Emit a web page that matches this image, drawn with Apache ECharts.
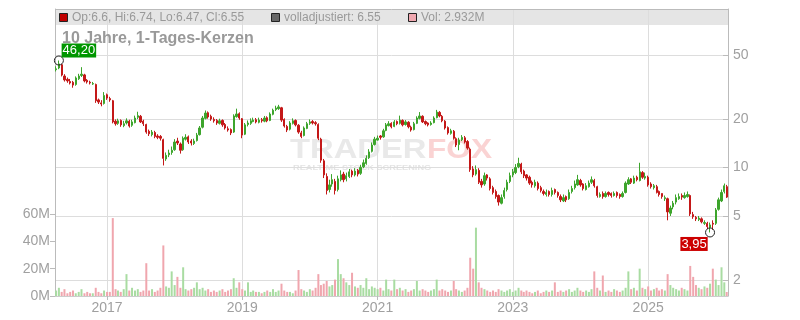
<!DOCTYPE html>
<html><head><meta charset="utf-8">
<script src="https://cdn.jsdelivr.net/npm/echarts@6/dist/echarts.min.js"></script>
<style>html,body{margin:0;padding:0;background:#fff}#c{width:800px;height:320px}</style>
</head><body><div id="c"></div><script>
const dates = [
'2016-04-01','2016-04-16','2016-05-01','2016-05-16','2016-06-01','2016-06-16','2016-07-01','2016-07-16','2016-08-01','2016-08-16','2016-09-01','2016-09-16','2016-10-01','2016-10-16','2016-11-01','2016-11-16','2016-12-01','2016-12-16',
'2017-01-01','2017-01-16','2017-02-01','2017-02-16','2017-03-01','2017-03-16','2017-04-01','2017-04-16','2017-05-01','2017-05-16','2017-06-01','2017-06-16','2017-07-01','2017-07-16','2017-08-01','2017-08-16','2017-09-01','2017-09-16','2017-10-01','2017-10-16','2017-11-01','2017-11-16','2017-12-01','2017-12-16',
'2018-01-01','2018-01-16','2018-02-01','2018-02-16','2018-03-01','2018-03-16','2018-04-01','2018-04-16','2018-05-01','2018-05-16','2018-06-01','2018-06-16','2018-07-01','2018-07-16','2018-08-01','2018-08-16','2018-09-01','2018-09-16','2018-10-01','2018-10-16','2018-11-01','2018-11-16','2018-12-01','2018-12-16',
'2019-01-01','2019-01-16','2019-02-01','2019-02-16','2019-03-01','2019-03-16','2019-04-01','2019-04-16','2019-05-01','2019-05-16','2019-06-01','2019-06-16','2019-07-01','2019-07-16','2019-08-01','2019-08-16','2019-09-01','2019-09-16','2019-10-01','2019-10-16','2019-11-01','2019-11-16','2019-12-01','2019-12-16',
'2020-01-01','2020-01-16','2020-02-01','2020-02-16','2020-03-01','2020-03-16','2020-04-01','2020-04-16','2020-05-01','2020-05-16','2020-06-01','2020-06-16','2020-07-01','2020-07-16','2020-08-01','2020-08-16','2020-09-01','2020-09-16','2020-10-01','2020-10-16','2020-11-01','2020-11-16','2020-12-01','2020-12-16',
'2021-01-01','2021-01-16','2021-02-01','2021-02-16','2021-03-01','2021-03-16','2021-04-01','2021-04-16','2021-05-01','2021-05-16','2021-06-01','2021-06-16','2021-07-01','2021-07-16','2021-08-01','2021-08-16','2021-09-01','2021-09-16','2021-10-01','2021-10-16','2021-11-01','2021-11-16','2021-12-01','2021-12-16',
'2022-01-01','2022-01-16','2022-02-01','2022-02-16','2022-03-01','2022-03-16','2022-04-01','2022-04-16','2022-05-01','2022-05-16','2022-06-01','2022-06-16','2022-07-01','2022-07-16','2022-08-01','2022-08-16','2022-09-01','2022-09-16','2022-10-01','2022-10-16','2022-11-01','2022-11-16','2022-12-01','2022-12-16',
'2023-01-01','2023-01-16','2023-02-01','2023-02-16','2023-03-01','2023-03-16','2023-04-01','2023-04-16','2023-05-01','2023-05-16','2023-06-01','2023-06-16','2023-07-01','2023-07-16','2023-08-01','2023-08-16','2023-09-01','2023-09-16','2023-10-01','2023-10-16','2023-11-01','2023-11-16','2023-12-01','2023-12-16',
'2024-01-01','2024-01-16','2024-02-01','2024-02-16','2024-03-01','2024-03-16','2024-04-01','2024-04-16','2024-05-01','2024-05-16','2024-06-01','2024-06-16','2024-07-01','2024-07-16','2024-08-01','2024-08-16','2024-09-01','2024-09-16','2024-10-01','2024-10-16','2024-11-01','2024-11-16','2024-12-01','2024-12-16',
'2025-01-01','2025-01-16','2025-02-01','2025-02-16','2025-03-01','2025-03-16','2025-04-01','2025-04-16','2025-05-01','2025-05-16','2025-06-01','2025-06-16','2025-07-01','2025-07-16','2025-08-01','2025-08-16','2025-09-01','2025-09-16','2025-10-01','2025-10-16','2025-11-01','2025-11-16','2025-12-01','2025-12-16',
'2026-01-01','2026-01-16','2026-02-01','2026-02-16','2026-03-01'
];
const opens = [
40.5,41.5,43.5,37.0,35.3,34.2,33.8,32.8,35.6,37.3,37.6,34.8,33.9,33.0,32.8,26.3,25.2,25.0,28.3,26.8,
26.0,19.4,18.8,19.6,18.2,18.9,19.4,18.3,19.0,20.5,20.8,19.4,18.5,16.8,16.0,16.5,15.7,15.6,14.9,11.3,
12.0,12.4,12.9,14.6,14.0,12.9,15.0,15.5,14.6,14.1,14.7,16.0,17.8,20.2,21.9,20.8,19.9,19.6,18.8,19.6,
18.5,17.4,17.2,16.6,20.7,21.6,20.1,16.1,18.5,18.8,19.3,19.8,19.1,19.8,19.4,20.4,19.6,21.4,22.9,23.2,
23.5,19.9,18.0,17.3,18.8,19.6,18.3,16.4,15.8,17.5,18.8,19.3,19.0,18.5,15.0,11.0,8.8,7.3,7.9,8.2,
7.3,8.4,9.1,8.5,8.8,9.5,9.0,9.6,9.2,10.1,10.6,11.5,12.6,13.9,14.8,15.7,15.5,17.0,18.2,18.8,
18.0,19.3,18.8,19.6,18.5,19.1,17.8,17.2,18.8,20.2,20.8,19.3,18.9,18.5,19.0,20.4,22.0,20.8,19.4,17.7,
16.3,16.8,15.1,13.9,14.9,15.3,14.5,13.0,9.8,9.1,9.6,8.2,7.9,9.0,8.5,7.5,7.1,6.7,6.0,6.6,
7.3,8.2,9.0,9.3,10.1,10.5,9.5,9.0,8.7,8.1,7.7,8.0,7.5,7.1,6.8,7.1,6.8,7.3,7.0,6.6,
6.2,6.6,6.4,7.1,7.5,7.8,8.3,7.9,7.3,7.6,8.1,8.3,7.6,6.6,6.9,6.6,7.0,6.9,6.7,7.0,
6.8,6.6,7.0,7.9,8.5,8.0,8.7,8.3,9.3,8.6,8.7,7.9,7.5,7.6,7.1,6.9,6.4,6.4,5.2,5.7,
6.1,6.4,6.7,6.5,6.6,6.7,5.1,4.9,4.75,4.8,4.5,4.5,4.25,4.5,4.5,5.5,6.2,7.1,7.6
];
const highs = [
42.5,46.2,44.0,38.0,36.2,35.5,34.5,36.8,38.2,42.0,38.2,35.4,34.6,34.0,33.2,26.8,26.2,29.4,28.8,27.5,
26.3,19.9,20.1,19.9,19.5,20.2,19.8,19.8,21.0,22.2,21.2,19.8,18.7,17.2,17.1,16.9,16.1,15.9,15.1,12.4,
12.9,13.5,15.0,15.3,14.3,15.6,16.1,15.8,15.0,15.1,16.4,18.1,20.9,22.6,22.3,21.3,20.5,20.0,20.1,19.9,
18.9,18.0,17.5,21.4,23.2,22.0,20.3,18.9,19.6,20.2,20.4,20.3,20.4,20.3,20.9,20.8,22.0,23.2,24.2,24.5,
23.8,20.2,18.4,19.4,20.2,19.9,18.6,16.9,18.0,19.2,19.9,19.7,19.4,18.8,15.3,11.3,9.2,8.4,9.1,8.5,
8.9,9.6,9.4,9.3,9.8,9.7,9.9,9.8,10.4,11.2,11.9,13.0,14.3,15.5,15.8,15.9,17.4,18.9,19.4,19.1,
19.7,19.6,21.0,19.9,19.7,19.4,18.2,19.2,20.8,22.1,21.1,19.6,19.1,19.4,20.8,22.8,22.4,21.2,19.7,18.0,
17.4,17.1,15.4,15.3,15.9,15.7,14.8,13.3,10.2,10.3,9.9,8.5,9.3,9.1,8.7,7.7,7.3,6.8,6.8,7.5,
8.4,9.3,9.8,10.5,11.5,10.7,9.7,9.1,8.9,8.3,8.4,8.2,7.7,7.3,7.3,7.2,7.5,7.4,7.1,6.8,
6.8,6.7,7.3,7.7,8.3,9.0,8.5,8.0,8.0,8.3,8.8,8.5,7.7,7.0,7.1,7.1,7.1,7.0,7.1,7.1,
6.9,7.1,8.2,8.7,8.6,8.9,8.9,10.7,9.5,9.3,8.9,8.1,7.9,7.8,7.2,6.9,6.7,6.5,5.8,6.2,
6.8,6.9,6.9,7.0,7.1,6.8,5.3,5.0,5.0,4.9,4.7,4.6,4.55,4.7,5.6,6.5,7.3,7.95,7.8
];
const lows = [
39.5,40.8,36.8,34.2,33.6,32.8,31.3,32.2,35.0,36.5,33.8,33.2,32.8,32.6,25.2,24.8,24.0,24.6,26.3,25.6,
18.8,18.2,18.4,17.9,17.8,18.5,17.7,17.9,18.8,20.0,18.9,18.1,16.2,15.7,15.6,15.2,15.0,14.7,10.3,11.0,
11.6,12.0,12.7,13.8,12.2,12.7,14.7,14.0,13.7,13.8,14.5,15.8,17.5,19.9,20.1,19.5,19.0,18.4,18.5,17.9,
17.2,16.7,15.9,16.4,20.4,19.8,15.2,15.9,18.0,18.4,19.1,18.8,18.8,19.0,19.1,19.1,19.4,21.1,22.4,22.8,
19.2,17.7,16.6,17.0,18.5,18.0,16.2,15.2,15.6,17.3,18.4,18.5,18.2,14.8,10.7,8.6,6.8,7.0,7.6,6.8,
7.1,8.2,8.1,8.2,8.6,8.7,8.8,8.8,9.0,9.9,10.4,11.3,12.4,13.7,14.7,14.9,15.3,16.8,18.0,17.5,
17.8,18.3,18.5,18.0,18.2,17.5,16.7,17.0,18.6,19.9,18.9,18.3,18.0,18.2,18.8,20.2,20.5,19.1,17.2,16.0,
16.0,14.9,13.4,12.8,14.6,14.1,12.9,9.4,8.7,8.9,7.9,7.5,7.7,8.3,7.2,6.8,6.4,5.8,5.9,6.4,
7.1,8.0,8.7,9.1,9.9,9.1,8.6,8.3,7.8,7.5,7.5,7.2,7.0,6.7,6.6,6.6,6.6,6.8,6.5,6.1,
6.1,6.1,6.3,6.9,7.3,7.7,7.6,7.2,7.2,7.5,7.9,7.5,6.5,6.5,6.4,6.5,6.6,6.5,6.6,6.5,
6.4,6.5,6.9,7.8,7.9,7.9,8.2,8.2,8.5,8.4,7.6,7.4,7.3,6.9,6.6,6.4,6.2,4.7,5.0,5.5,
5.9,6.3,6.3,6.4,6.5,5.0,4.8,4.65,4.65,4.5,4.4,4.15,3.95,4.1,4.4,5.4,6.1,6.9,6.47
];
const closes = [
41.0,44.0,37.5,35.0,34.5,33.5,32.5,36.0,37.0,38.0,34.5,34.0,33.5,33.2,26.0,25.5,24.8,28.0,27.0,26.3,
19.2,18.7,19.5,18.4,18.7,19.5,18.1,19.2,20.3,21.0,19.2,18.7,16.6,16.2,16.6,15.6,15.4,15.2,11.4,11.9,
12.3,12.8,14.4,14.2,12.8,15.2,15.4,14.4,14.2,14.6,15.9,17.6,20.3,21.8,20.6,20.0,19.5,18.9,19.5,18.4,
17.6,17.1,16.4,20.9,21.5,20.3,15.9,18.4,18.9,19.5,19.7,19.2,19.7,19.5,20.3,19.5,21.5,22.7,23.4,23.8,
19.7,18.1,17.1,18.9,19.5,18.4,16.6,15.6,17.6,18.7,19.2,18.9,18.7,15.2,11.1,9.0,7.2,7.8,8.4,7.2,
8.5,9.0,8.4,8.9,9.4,9.0,9.5,9.1,10.0,10.7,11.4,12.5,13.8,15.0,15.2,15.4,16.9,18.4,18.7,17.9,
19.2,18.7,19.7,18.4,19.2,17.9,17.1,18.7,20.3,20.9,19.2,18.7,18.4,18.9,20.3,22.1,20.9,19.5,17.6,16.4,
16.9,15.2,13.8,14.8,15.4,14.4,13.2,9.7,9.0,9.7,8.1,7.8,8.9,8.6,7.4,7.0,6.6,6.1,6.5,7.2,
8.1,8.9,9.4,10.0,10.6,9.4,8.9,8.6,8.0,7.8,8.1,7.4,7.2,6.9,7.0,6.8,7.2,7.0,6.7,6.3,
6.5,6.3,7.0,7.4,7.9,8.4,7.8,7.4,7.7,8.0,8.4,7.7,6.7,6.8,6.6,6.9,6.8,6.7,6.9,6.7,
6.6,6.9,8.0,8.4,8.1,8.6,8.4,9.4,8.7,8.8,7.8,7.6,7.7,7.0,6.8,6.6,6.5,5.3,5.6,6.0,
6.5,6.6,6.55,6.7,6.8,5.15,4.95,4.8,4.85,4.6,4.55,4.3,4.4,4.45,5.45,6.3,7.0,7.7,6.55
];
const volumesM = [
4,6,3,5,2,3,4,2,3,5,2,3,2,2,6,3,2,4,3,3,
57,5,4,3,5,16,4,6,4,5,3,4,24,4,5,3,4,6,37,7,
6,18,8,14,6,21,5,4,5,6,10,5,6,4,5,3,4,3,4,5,
3,4,5,13,6,10,5,4,10,3,4,3,3,2,3,4,3,5,3,4,
9,4,3,3,2,4,19,5,4,3,5,4,6,16,8,9,11,7,8,12,
27,16,13,10,8,17,7,6,8,6,13,5,7,6,5,6,4,12,5,4,
12,5,6,4,5,3,4,5,11,4,5,4,3,4,5,12,4,5,4,3,
4,11,5,4,3,4,6,28,20,50,10,6,5,4,3,4,3,5,4,3,
4,5,3,4,6,4,3,4,3,2,3,4,2,3,4,3,4,10,3,4,
3,4,5,3,4,6,4,3,4,3,5,18,6,4,15,3,4,3,5,4,
3,4,6,18,5,6,4,20,6,5,7,4,5,6,4,5,4,16,8,6,
5,4,6,5,4,22,14,8,6,5,7,6,9,20,12,8,21,10,2.932
];
const yearTicks = ['2017-01-01','2019-01-01','2021-01-01','2023-01-01','2025-01-01'];
const priceTicks = [2, 5, 10, 20, 50];
const volTicks = [0, 20, 40, 60];
const lastDay = [6.6, 6.74, 6.47, 6.55];
const adjusted = 6.55;
const lastVol = 2.932;

const FONT = '"Liberation Sans", Arial, sans-serif';
const UP = '#3da52c', DOWN = '#c41818';
const VUP = '#a9dca2', VDOWN = '#f0a6ae';

const ts = dates.map(d => Date.parse(d));
const candles = ts.map((t, i) => [t, opens[i], closes[i], lows[i], highs[i]]);
const vols = ts.map((t, i) => ({
  value: [t, volumesM[i]],
  itemStyle: { color: closes[i] >= opens[i] ? VUP : VDOWN }
}));
let iMax = 0, iMin = 0;
highs.forEach((h, i) => { if (h > highs[iMax]) iMax = i; });
lows.forEach((l, i) => { if (l < lows[iMin]) iMin = i; });
const fmtDE = v => v.toFixed(2).replace('.', ',');
const txt = (x, y, text, font, fill, z, scaleX) => ({
  type: 'text', z: z, x: x, y: y, scaleX: scaleX || 1,
  style: { text: text, fill: fill, font: font, align: 'left', verticalAlign: 'middle', textAlign: 'left', textVerticalAlign: 'middle' }
});

const chart = echarts.init(document.getElementById('c'));
chart.setOption({
  animation: false,
  backgroundColor: '#fff',
  grid: { left: 55, right: 72, top: 9, bottom: 24, containLabel: false, outerBoundsMode: 'none' },
  xAxis: {
    type: 'value',
    min: Date.parse('2016-03-26'),
    max: Date.parse('2026-03-08'),
    axisLine: { show: true, lineStyle: { color: '#cccccc' } },
    axisTick: { show: true, length: 4, lineStyle: { color: '#bbbbbb' }, customValues: yearTicks.map(d => Date.parse(d)) },
    axisLabel: { show: true, customValues: yearTicks.map(d => Date.parse(d)), formatter: v => String(new Date(v).getUTCFullYear()),
      color: '#a0a0a0', fontSize: 14, fontFamily: FONT, margin: 5 },
    splitLine: { show: true, lineStyle: { color: '#dddddd', width: 1 } }
  },
  yAxis: [
    {
      type: 'log', logBase: 10, position: 'right', min: 1.592, max: 96.5,
      axisLine: { show: true, lineStyle: { color: '#bbbbbb' } },
      axisTick: { show: true, inside: true, length: 5, lineStyle: { color: '#bbbbbb' }, customValues: priceTicks },
      axisLabel: { show: true, customValues: priceTicks, formatter: v => String(Math.round(v)),
        color: '#a0a0a0', fontSize: 14, fontFamily: FONT, margin: 5 },
      splitLine: { show: true, lineStyle: { color: '#dddddd', width: 1 } }
    },
    {
      type: 'value', position: 'left', min: 0, max: 210,
      axisLine: { show: true, lineStyle: { color: '#bbbbbb' } },
      axisTick: { show: true, length: 5, lineStyle: { color: '#bbbbbb' }, customValues: volTicks },
      axisLabel: { show: true, customValues: volTicks, formatter: v => v + 'M',
        color: '#a0a0a0', fontSize: 14, fontFamily: FONT, margin: 5 },
      splitLine: { show: false }
    }
  ],
  graphic: [
    { type: 'rect', z: -20, shape: { x: 55, y: 9, width: 673, height: 16 }, style: { fill: '#e5e5e5' } },
    { type: 'line', z: 5, shape: { x1: 55, y1: 9.5, x2: 728, y2: 9.5 }, style: { stroke: '#bbbbbb', lineWidth: 1 } },
    { type: 'rect', z: 5, shape: { x: 59.5, y: 13.5, width: 8, height: 8 }, style: { fill: '#c00000', stroke: '#222', lineWidth: 1 } },
    txt(72, 17.5, `Op:${lastDay[0]}, Hi:${lastDay[1]}, Lo:${lastDay[2]}, Cl:${lastDay[3]}`, '12px ' + FONT, '#999999', 5),
    { type: 'rect', z: 5, shape: { x: 271.5, y: 13.5, width: 8, height: 8 }, style: { fill: '#666666', stroke: '#222', lineWidth: 1 } },
    txt(284, 17.5, `volladjustiert: ${adjusted}`, '12px ' + FONT, '#999999', 5),
    { type: 'rect', z: 5, shape: { x: 408.5, y: 13.5, width: 8, height: 8 }, style: { fill: '#f0a8b0', stroke: '#222', lineWidth: 1 } },
    txt(421, 17.5, `Vol: ${lastVol}M`, '12px ' + FONT, '#999999', 5),
    txt(62, 39, '10 Jahre, 1-Tages-Kerzen', 'bold 16px ' + FONT, '#999999', 5),
    txt(290, 150, 'TRADER', 'bold 28px ' + FONT, '#e9e9e9', -10, 1.17),
    txt(427, 150, 'FOX', 'bold 28px ' + FONT, '#fad3d3', -10, 1.13),
    txt(293, 168, 'REALTIME STOCK SCREENING', 'bold 8px ' + FONT, '#e4e4e4', -10, 1.15)
  ],
  series: [
    {
      type: 'bar', name: 'Vol', xAxisIndex: 0, yAxisIndex: 1, z: 1,
      barWidth: 2, data: vols, silent: true
    },
    {
      type: 'candlestick', name: 'Kurs', xAxisIndex: 0, yAxisIndex: 0, z: 3,
      barWidth: 1.8,
      encode: { x: 0, y: [1, 2, 3, 4] },
      data: candles,
      itemStyle: { color: UP, color0: DOWN, borderColor: UP, borderColor0: DOWN, borderWidth: 1 },
      markPoint: {
        symbol: 'circle', symbolSize: 9,
        itemStyle: { color: 'rgba(0,0,0,0)', borderColor: '#222', borderWidth: 1 },
        data: [
          { coord: [ts[iMax], highs[iMax]], value: highs[iMax],
            label: { show: true, position: 'inside', offset: [20, -10], formatter: () => fmtDE(highs[iMax]),
              color: '#fff', backgroundColor: '#009600', padding: [1, 1, 0, 1], fontSize: 13, fontFamily: FONT } },
          { coord: [ts[iMin], lows[iMin]], value: lows[iMin],
            label: { show: true, position: 'inside', offset: [-16, 11.5], formatter: () => fmtDE(lows[iMin]),
              color: '#fff', backgroundColor: '#cc0000', padding: [1, 1, 0, 1], fontSize: 13, fontFamily: FONT } }
        ]
      }
    }
  ]
});
</script></body></html>
